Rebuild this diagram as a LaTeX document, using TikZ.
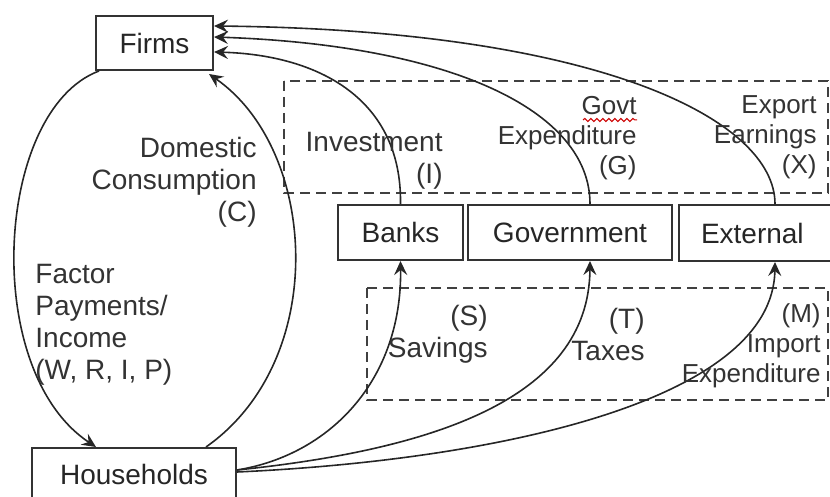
\documentclass[tikz,border=0pt]{standalone}
\usepackage{fontspec}
\setmainfont{Liberation Sans}
\usetikzlibrary{positioning,arrows.meta,calc,decorations.pathmorphing}

\begin{document}
\begin{tikzpicture}[x=0.5pt, y=-0.5pt,
  box/.style={rectangle, draw=black!80, line width=1pt, inner sep=0pt,
              font=\fontsize{14}{16}\selectfont, text=black!85},
  lbl/.style={inner sep=0pt, align=right, font=\fontsize{14}{16}\selectfont, text=black!80},
  lbls/.style={lbl, font=\fontsize{13}{15}\selectfont},
  flow/.style={-{Stealth[length=7pt,width=6.5pt,inset=2.5pt]}, line width=0.8pt, black!85},
  group/.style={draw=black!75, line width=0.75pt, dash pattern=on 5pt off 3pt},
]
\useasboundingbox (0,0) rectangle (830,497);

% sectors
\node[box, minimum width=58.5pt, minimum height=27pt] (firms) at (154.5,43) {Firms};
\node[box, minimum width=102pt, minimum height=26pt] (hholds) at (134,474) {Households};
\node[box, minimum width=62.5pt, minimum height=27.5pt] (banks) at (400.5,232.5) {Banks};
\node[box, minimum width=102pt, minimum height=27.5pt] (govt) at (570,232.5) {Government};
\node[box, minimum height=28pt, anchor=west, align=left, text width=63pt, inner xsep=11pt] (extn) at (678,233) {External};

% injection and leakage frames
\draw[group] (284,81) rectangle (828,193);
\draw[group] (367,288) rectangle (828,400);

% circular flow
\draw[flow] ($(firms.south west)+(4,0)$) .. controls (-5,110) and (-20,370) .. ($(hholds.north west)+(65,0)$);
\draw[flow] ($(hholds.north west)+(175,0)$) .. controls (330,360) and (318,150) .. ($(firms.south east)+(-5,3)$);

% injections
\draw[flow] (banks.north) .. controls (402,100) and (320,55) .. ([yshift=-4.5pt]firms.east);
\draw[flow] ($(govt.north)+(20,0)$) .. controls (590,110) and (450,45) .. ([yshift=3pt]firms.east);
\draw[flow] ($(extn.north west)+(97,0)$) .. controls (775,120) and (600,30) .. ([yshift=8.5pt]firms.east);

% leakages
\draw[flow] ([yshift=2pt]hholds.east) .. controls (330,455) and (402,380) .. (banks.south);
\draw[flow] ([yshift=2pt]hholds.east) .. controls (430,450) and (589,400) .. ($(govt.south)+(20,0)$);
\draw[flow] ([yshift=1pt]hholds.east) .. controls (500,460) and (773,400) .. ($(extn.south west)+(97,0)$);

% labels
\node[lbl, anchor=east] (domlbl) at (257,182) {Domestic\\Consumption\\(C)};
\node[lbl, anchor=west, align=left] (faclbl) at (35,325) {Factor\\Payments/\\Income\\(W, R, I, P)};
\node[lbl, anchor=east] (invlbl) at (443,161) {Investment\\(I)};
\node[lbls, anchor=east] (govlbl) at (637,138) {Govt\\Expenditure\\(G)};
\node[lbls, anchor=east] (explbl) at (817,137) {Export\\Earnings\\(X)};
\node[lbl, anchor=east] (savlbl) at (488,334) {(S)\\Savings};
\node[lbl, anchor=east] (taxlbl) at (645,334) {(T)\\Taxes};
\node[lbls, anchor=east] (implbl) at (821,346) {(M)\\Import\\Expenditure};

% spell-check mark under Govt
\draw[red!80!black, line width=0.5pt, decorate, decoration={snake, amplitude=0.8pt, segment length=3pt}]
  (583,120) -- (637,120);

\end{tikzpicture}
\end{document}
